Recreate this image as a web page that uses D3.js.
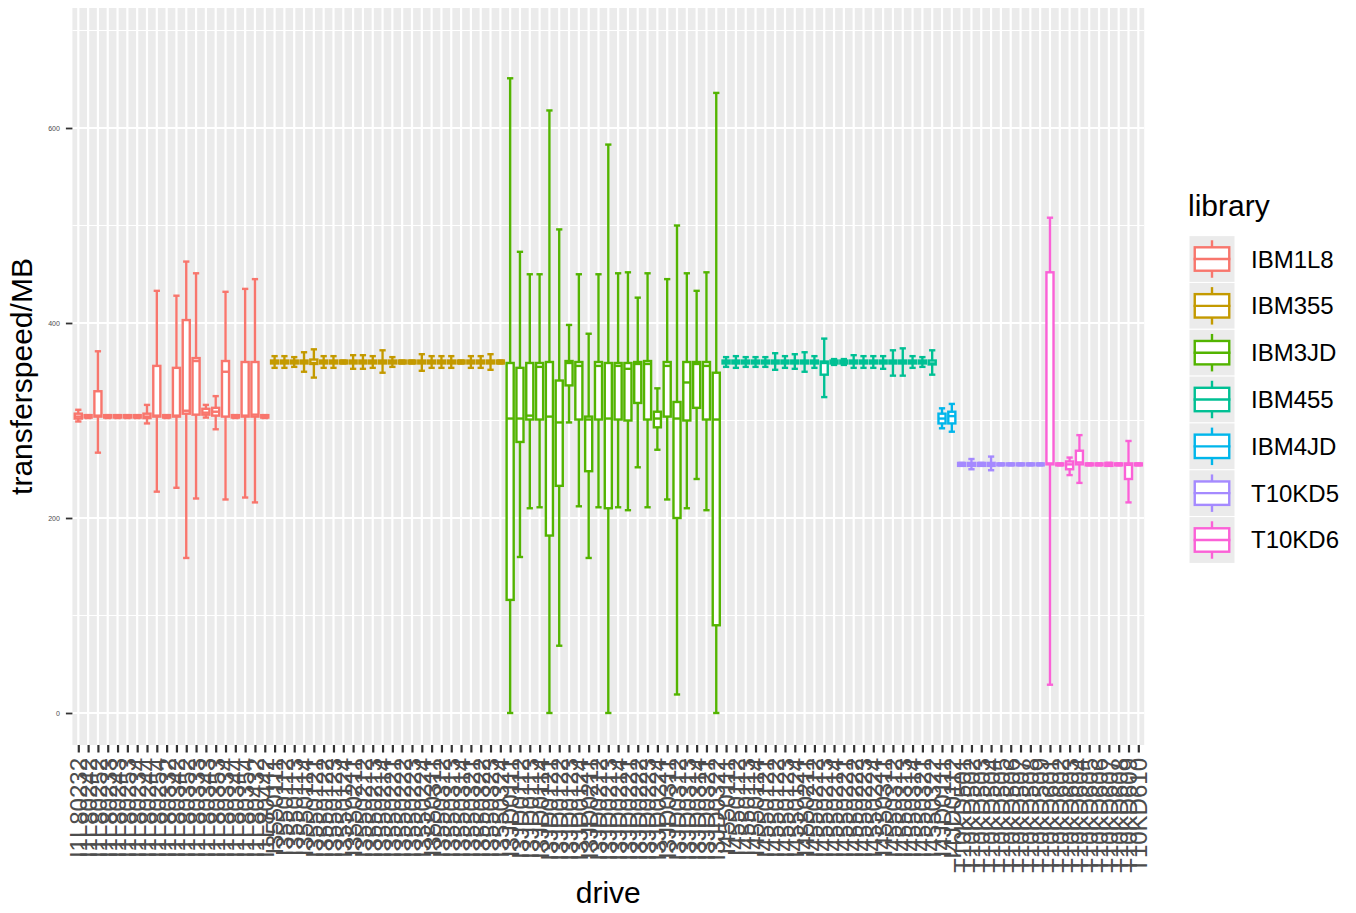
<!DOCTYPE html>
<html><head><meta charset="utf-8">
<script src="https://cdn.jsdelivr.net/npm/d3@7"></script>
<style>
body{margin:0;background:#fff}
svg{display:block}
text{font-family:"Liberation Sans",Arial,Helvetica,sans-serif}
</style>
</head><body>
<svg id="chart" width="1356" height="913"></svg>
<script>
// ---------------- DATA ----------------
const libraries = ["IBM1L8","IBM355","IBM3JD","IBM455","IBM4JD","T10KD5","T10KD6"];
const libraryColors = ["#F8766D","#C49A00","#53B400","#00C094","#00B6EB","#A58AFF","#FB61D7"];

const drives = [
  // IBM1L8
  "I1L80232","I1L80242","I1L80252","I1L80233","I1L80243","I1L80253","I1L80234","I1L80244","I1L80254","I1L80332",
  "I1L80342","I1L80352","I1L80333","I1L80343","I1L80353","I1L80334","I1L80344","I1L80354","I1L80432","I1L80442",
  // IBM355
  "I3550111","I3550112","I3550113","I3550114","I3550121","I3550122","I3550123","I3550124","I3550211","I3550212",
  "I3550213","I3550214","I3550221","I3550222","I3550223","I3550224","I3550311","I3550312","I3550313","I3550314",
  "I3550321","I3550322","I3550323","I3550324",
  // IBM3JD
  "I3JD0111","I3JD0112","I3JD0113","I3JD0114","I3JD0121","I3JD0122","I3JD0123","I3JD0124","I3JD0211","I3JD0212",
  "I3JD0213","I3JD0214","I3JD0221","I3JD0222","I3JD0223","I3JD0224","I3JD0311","I3JD0312","I3JD0313","I3JD0314",
  "I3JD0321","I3JD0322",
  // IBM455
  "I4550111","I4550112","I4550113","I4550114","I4550121","I4550122","I4550123","I4550124","I4550211","I4550212",
  "I4550213","I4550214","I4550221","I4550222","I4550223","I4550224","I4550311","I4550312","I4550313","I4550314",
  "I4550321","I4550322",
  // IBM4JD
  "I4JD0111","I4JD0112",
  // T10KD5
  "T10KD501","T10KD502","T10KD503","T10KD504","T10KD505","T10KD506","T10KD507","T10KD508","T10KD509",
  // T10KD6
  "T10KD601","T10KD602","T10KD603","T10KD604","T10KD605","T10KD606","T10KD607","T10KD608","T10KD609","T10KD610"
];

const driveLibrary = [
  "IBM1L8","IBM1L8","IBM1L8","IBM1L8","IBM1L8","IBM1L8","IBM1L8","IBM1L8","IBM1L8","IBM1L8",
  "IBM1L8","IBM1L8","IBM1L8","IBM1L8","IBM1L8","IBM1L8","IBM1L8","IBM1L8","IBM1L8","IBM1L8",
  "IBM355","IBM355","IBM355","IBM355","IBM355","IBM355","IBM355","IBM355","IBM355","IBM355",
  "IBM355","IBM355","IBM355","IBM355","IBM355","IBM355","IBM355","IBM355","IBM355","IBM355",
  "IBM355","IBM355","IBM355","IBM355",
  "IBM3JD","IBM3JD","IBM3JD","IBM3JD","IBM3JD","IBM3JD","IBM3JD","IBM3JD","IBM3JD","IBM3JD",
  "IBM3JD","IBM3JD","IBM3JD","IBM3JD","IBM3JD","IBM3JD","IBM3JD","IBM3JD","IBM3JD","IBM3JD",
  "IBM3JD","IBM3JD",
  "IBM455","IBM455","IBM455","IBM455","IBM455","IBM455","IBM455","IBM455","IBM455","IBM455",
  "IBM455","IBM455","IBM455","IBM455","IBM455","IBM455","IBM455","IBM455","IBM455","IBM455",
  "IBM455","IBM455",
  "IBM4JD","IBM4JD",
  "T10KD5","T10KD5","T10KD5","T10KD5","T10KD5","T10KD5","T10KD5","T10KD5","T10KD5",
  "T10KD6","T10KD6","T10KD6","T10KD6","T10KD6","T10KD6","T10KD6","T10KD6","T10KD6","T10KD6"
];

const whiskerLow = [
  299,302.5,267,302.5,302.5,302.5,302.5,297,227,302.5,231,159,220,303,291,219,302.5,221,216,302.5,
  354,354,355,350,344,354,354,358.5,353,353,354,349,355,358.5,358.5,351,354,354,354,358.5,354,354,352,358.5,
  0,160,210,211,0,69,298,212,159,211,0,211,208,252,211,270,219,19,210,240,208,0,
  355,354,355,355,355,352,354,353,350,354,324,357,357,354,354,354,353,346,346,354,355,347,
  292,288.5,
  253.5,250,253.5,249,254,254,254,254,254,
  29,254,244,236,254,254,253.5,254,216,254
];
const q1 = [
  302,303,304,303,303,303,303,302.5,304,303,304,307,306,306,305,304,303,304,304,303,
  358.5,358.5,358.5,358.5,358,358.5,358.5,358.5,358.5,358.5,358.5,358.5,358.5,358.5,358.5,358.5,358.5,358.5,358.5,358.5,358.5,358.5,358.5,358.5,
  116,278,301,301,182,233,336,301,248,301,210,301,300,318,301,293,304,200,300,313,301,90,
  358.5,358.5,358.5,358.5,358.5,358.5,358.5,358.5,358.5,358.5,347,358.5,358.5,358.5,358.5,358.5,358.5,358.5,358.5,358.5,358.5,357.5,
  297,297,
  253.5,253.5,253.5,253.5,254,254,254,254,254,
  255,254,250,255,254,254,253.5,254,240,254
];
const median = [
  304,304,305,304,304,304,304,304,305,304,305,310,361,308,309,350,304,305,306,304,
  360,360,360,360,359,360,360,360,360,360,360,360,360,360,360,360,360,360,360,360,360,360,360,360,
  302,302,305,355,304,298,359,356,301,356,302,356,353,358,358,302,356,302,339,358,356,301,
  360,360,360,360,360,360,360,360,360,360,359,360,360,360,360,360,360,360,360,360,360,358.5,
  302,304.5,
  255,255,255,255,255,255,255,255,255,
  256,255,255,257,255,255,255,255,254.5,255
];
const q3 = [
  307,305.5,330,305.5,305.5,305.5,305.5,307,356,305.5,354,403,364,312,313,361,305.5,360,360,305.5,
  361.5,361.5,361.5,361.5,362.5,361.5,361.5,361.5,361.5,361.5,361.5,361.5,361.5,361.5,361.5,361.5,361.5,361.5,361.5,361.5,361.5,361.5,361.5,361.5,
  359,354,359,359,360,341,361,360,304,360,359,359,359,360,361,309,360,319,360,360,360,349,
  361.5,361.5,361.5,361.5,361.5,361.5,361.5,361.5,361.5,361.5,360.5,361.5,361.5,361.5,361.5,361.5,361.5,361.5,361.5,361.5,361.5,361.5,
  307,309,
  256.5,256.5,256.5,256.5,256,256,256,256,256,
  452,256,258,269,256,256,256.5,256,256,256
];
const whiskerHigh = [
  311,305.5,371,305.5,305.5,305.5,305.5,316,433,305.5,428,463,451,316,325,432,305.5,435,445,305.5,
  366,366,365,370,373,366,366,361.5,367,367,366,372,365,361.5,361.5,368,366,366,366,361.5,366,366,368,361.5,
  651,473,450,450,618,496,398,450,389,450,583,451,452,426,451,333,445,500,451,433,452,636,
  365,366,365,365,365,369,366,368,370,366,384,363,363,367,366,366,366,372,374,366,365,372,
  312.5,317,
  256.5,260.5,256.5,263,256,256,256,256,256,
  508,256,262,285,256,256,256.5,256,279,256
];

const yTicks = [0, 200, 400, 600];
const yMinorTicks = [100, 300, 500, 700];
const xTitle = "drive";
const yTitle = "transferspeed/MB";
const legendTitle = "library";

// ---------------- LAYOUT ----------------
const panel = {left: 72.4, right: 1144.2, top: 8, bottom: 745};
const svg = d3.select("#chart");

const x = d3.scalePoint().domain(drives).range([panel.left, panel.right]).padding(0.6);
const y = d3.scaleLinear().domain([-32.82, 723.08]).range([panel.bottom, panel.top]);
const color = d3.scaleOrdinal().domain(libraries).range(libraryColors);
const step = x.step();

const rows = drives.map((d, i) => ({
  drive: d, lib: driveLibrary[i],
  lo: whiskerLow[i], q1: q1[i], med: median[i], q3: q3[i], hi: whiskerHigh[i]
}));

// panel background
svg.append("rect")
  .attr("x", panel.left).attr("y", panel.top)
  .attr("width", panel.right - panel.left).attr("height", panel.bottom - panel.top)
  .attr("fill", "#EBEBEB");

// minor horizontal grid
svg.append("g").selectAll("line").data(yMinorTicks).join("line")
  .attr("x1", panel.left).attr("x2", panel.right)
  .attr("y1", d => y(d)).attr("y2", d => y(d))
  .attr("stroke", "#fff").attr("stroke-width", 1.1);
// major horizontal grid
svg.append("g").selectAll("line").data(yTicks).join("line")
  .attr("x1", panel.left).attr("x2", panel.right)
  .attr("y1", d => y(d)).attr("y2", d => y(d))
  .attr("stroke", "#fff").attr("stroke-width", 2.2);
// vertical grid
svg.append("g").selectAll("line").data(drives).join("line")
  .attr("x1", d => x(d)).attr("x2", d => x(d))
  .attr("y1", panel.top).attr("y2", panel.bottom)
  .attr("stroke", "#fff").attr("stroke-width", 2.2);

// errorbars
const capW = 0.64 * step;
const boxW = 0.72 * step;
const lw = 2.4;
const eb = svg.append("g");
rows.forEach(r => {
  const cx = x(r.drive), c = color(r.lib);
  eb.append("line").attr("x1", cx).attr("x2", cx).attr("y1", y(r.lo)).attr("y2", y(r.hi))
    .attr("stroke", c).attr("stroke-width", lw);
  [r.lo, r.hi].forEach(v => {
    eb.append("line").attr("x1", cx - capW / 2).attr("x2", cx + capW / 2)
      .attr("y1", y(v)).attr("y2", y(v)).attr("stroke", c).attr("stroke-width", lw);
  });
});
// boxes
const bx = svg.append("g");
rows.forEach(r => {
  const cx = x(r.drive), c = color(r.lib);
  bx.append("rect").attr("x", cx - boxW / 2).attr("width", boxW)
    .attr("y", y(r.q3)).attr("height", Math.max(0.01, y(r.q1) - y(r.q3)))
    .attr("fill", "#fff").attr("stroke", c).attr("stroke-width", lw);
  bx.append("line").attr("x1", cx - boxW / 2).attr("x2", cx + boxW / 2)
    .attr("y1", y(r.med)).attr("y2", y(r.med)).attr("stroke", c).attr("stroke-width", lw);
});

// y axis
const yAxis = svg.append("g").attr("transform", `translate(${panel.left},0)`)
  .call(d3.axisLeft(y).tickValues(yTicks).tickSize(6.5).tickPadding(6));
yAxis.select(".domain").remove();
yAxis.selectAll(".tick line").attr("stroke", "#333").attr("stroke-width", 1.8);
yAxis.selectAll(".tick text").attr("fill", "#4D4D4D").attr("font-size", 7)
  .attr("font-family", '"Liberation Sans",Arial,sans-serif');

// x axis
const xAxis = svg.append("g").attr("transform", `translate(0,${panel.bottom})`)
  .call(d3.axisBottom(x).tickSize(7.5).tickPadding(0));
xAxis.select(".domain").remove();
xAxis.selectAll(".tick line").attr("stroke", "#333").attr("stroke-width", 2.2);
xAxis.selectAll(".tick text")
  .attr("fill", "#4D4D4D").attr("font-size", 24)
  .attr("font-family", '"Liberation Sans",Arial,sans-serif')
  .attr("text-anchor", "end")
  .attr("transform", "translate(0,13) rotate(-90)")
  .attr("x", 0).attr("y", 0).attr("dy", "0.35em");

// axis titles
svg.append("text").attr("x", (panel.left + panel.right) / 2).attr("y", 903)
  .attr("text-anchor", "middle").attr("font-size", 30).attr("fill", "#000").text(xTitle);
svg.append("text").attr("transform", `translate(32,${(panel.top + panel.bottom) / 2}) rotate(-90)`)
  .attr("text-anchor", "middle").attr("font-size", 30).attr("fill", "#000").text(yTitle);

// legend
const lg = svg.append("g");
lg.append("text").attr("x", 1188).attr("y", 216).attr("font-size", 30).attr("fill", "#000").text(legendTitle);
const keyX = 1189, keyW = 46, keyH = 46.83, keyTop = 235.6;
libraries.forEach((lib, i) => {
  const ty = keyTop + i * keyH, c = color(lib), cx = keyX + keyW / 2;
  lg.append("rect").attr("x", keyX).attr("y", ty).attr("width", keyW).attr("height", keyH)
    .attr("fill", "#EBEBEB").attr("stroke", "#fff").attr("stroke-width", 1);
  lg.append("line").attr("x1", keyX + 0.1 * keyW).attr("x2", keyX + 0.9 * keyW)
    .attr("y1", ty + keyH / 2).attr("y2", ty + keyH / 2).attr("stroke", c).attr("stroke-width", lw);
  lg.append("line").attr("x1", cx).attr("x2", cx).attr("y1", ty + 0.1 * keyH).attr("y2", ty + 0.25 * keyH)
    .attr("stroke", c).attr("stroke-width", lw);
  lg.append("line").attr("x1", cx).attr("x2", cx).attr("y1", ty + 0.75 * keyH).attr("y2", ty + 0.9 * keyH)
    .attr("stroke", c).attr("stroke-width", lw);
  lg.append("rect").attr("x", keyX + 0.125 * keyW).attr("width", 0.75 * keyW)
    .attr("y", ty + 0.25 * keyH).attr("height", 0.5 * keyH)
    .attr("fill", "#fff").attr("stroke", c).attr("stroke-width", lw);
  lg.append("line").attr("x1", keyX + 0.125 * keyW).attr("x2", keyX + 0.875 * keyW)
    .attr("y1", ty + keyH / 2).attr("y2", ty + keyH / 2).attr("stroke", c).attr("stroke-width", lw);
  lg.append("text").attr("x", 1251).attr("y", ty + keyH / 2 + 8.5)
    .attr("font-size", 24).attr("fill", "#000").text(lib);
});
</script>
</body></html>
